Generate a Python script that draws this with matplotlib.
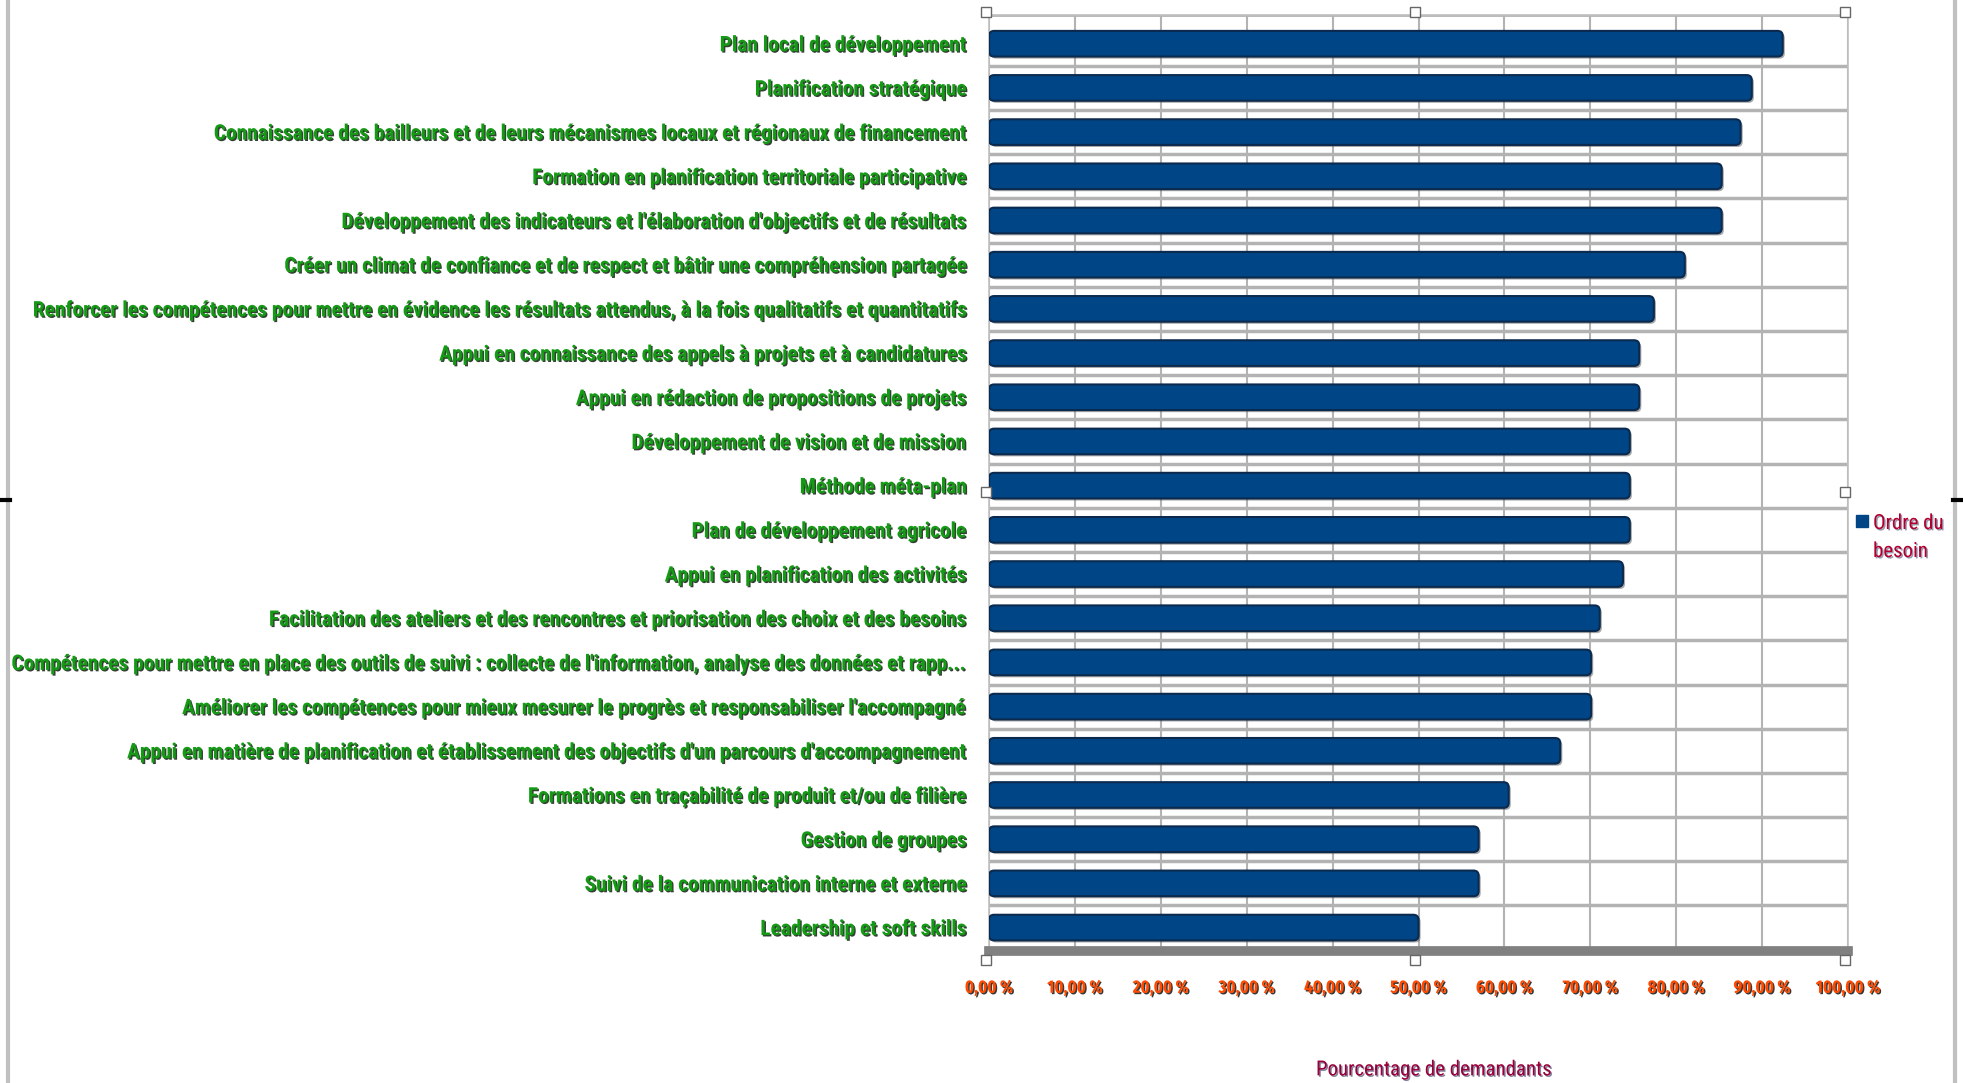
import matplotlib
matplotlib.use("Agg")
import matplotlib.pyplot as plt
import matplotlib.patheffects as pe
from matplotlib.lines import Line2D
from matplotlib.patches import FancyBboxPatch

# donnees
besoins = [
    "Plan local de développement",
    "Planification stratégique",
    "Connaissance des bailleurs et de leurs mécanismes locaux et régionaux de financement",
    "Formation en planification territoriale participative",
    "Développement des indicateurs et l'élaboration d'objectifs et de résultats",
    "Créer un climat de confiance et de respect et bâtir une compréhension partagée",
    "Renforcer les compétences pour mettre en évidence les résultats attendus, à la fois qualitatifs et quantitatifs",
    "Appui en connaissance des appels à projets et à candidatures",
    "Appui en rédaction de propositions de projets",
    "Développement de vision et de mission",
    "Méthode méta-plan",
    "Plan de développement agricole",
    "Appui en planification des activités",
    "Facilitation des ateliers et des rencontres et priorisation des choix et des besoins",
    "Compétences pour mettre en place des outils de suivi : collecte de l'information, analyse des données et rapp...",
    "Améliorer les compétences pour mieux mesurer le progrès et responsabiliser l'accompagné",
    "Appui en matière de planification et établissement des objectifs d'un parcours d'accompagnement",
    "Formations en traçabilité de produit et/ou de filière",
    "Gestion de groupes",
    "Suivi de la communication interne et externe",
    "Leadership et soft skills",
]
pourcentages = [92.4, 88.8, 87.5, 85.3, 85.3, 81.0, 77.4, 75.7, 75.7, 74.6, 74.6,
                74.6, 73.8, 71.1, 70.1, 70.1, 66.5, 60.5, 57.0, 57.0, 50.0]
ticks = list(range(0, 101, 10))
tick_labels = [f"{t},00 %" for t in ticks]

police = ["Roboto Condensed", "DejaVu Sans"]
police_ticks = ["Fira Sans Extra Condensed", "Roboto Condensed", "DejaVu Sans"]
ombre = [pe.SimplePatchShadow(offset=(1, -1), shadow_rgbFace="#1c2a1c", alpha=0.9), pe.Normal()]

fig = plt.figure(figsize=(19.63, 10.83), dpi=100)
ax = fig.add_axes([989 / 1963, 1 - 951 / 1083, (1848 - 989) / 1963, (951 - 15) / 1083])

y = list(range(len(besoins)))
barres = ax.barh(y, pourcentages, height=0.58, color="#004586", zorder=3)
# barres aux bouts arrondis, a partir de la geometrie des barres
for b in barres:
    b.set_visible(False)
    arrondi = FancyBboxPatch((b.get_x(), b.get_y()), b.get_width(), b.get_height(),
                             boxstyle="round,pad=0,rounding_size=0.6", mutation_aspect=0.19,
                             facecolor="#004586", edgecolor="#0b2a4e", linewidth=1.5, zorder=3)
    arrondi.set_path_effects([pe.SimplePatchShadow(offset=(1.5, -1.5), shadow_rgbFace="#555555", alpha=0.5),
                              pe.Normal()])
    ax.add_patch(arrondi)

ax.set_xlim(0, 100)
ax.set_ylim(20.53, -0.65)

# grille
for t in ticks:
    ax.axvline(t, color="#b3b3b3", lw=1.5, zorder=1)
for i in range(len(besoins)):
    ax.axhline(i + 0.5, color="#b3b3b3", lw=2.5, zorder=1)
ax.axhline(-0.65, color="#b3b3b3", lw=2, zorder=1)

for s in ["top", "right", "left"]:
    ax.spines[s].set_color("#c0c0c0")
    ax.spines[s].set_linewidth(1.2)
ax.spines["bottom"].set_color("#808080")
ax.spines["bottom"].set_linewidth(7)

ax.set_yticks(y)
ax.set_yticklabels(besoins, fontsize=15.4, fontweight="bold", color="#159a15", family=police)
for lab in ax.get_yticklabels():
    lab.set_path_effects(ombre)
ax.set_xticks(ticks)
ax.set_xticklabels(tick_labels, fontsize=13, fontweight="bold", color="#ff4a00", family=police_ticks)
for lab in ax.get_xticklabels():
    lab.set_path_effects([pe.SimplePatchShadow(offset=(1, -1), shadow_rgbFace="#222222", alpha=0.9), pe.Normal()])
ax.tick_params(axis="y", length=0, pad=16)
ax.tick_params(axis="x", length=0, pad=20)

ax.set_xlabel("Pourcentage de demandants", fontsize=15, color="#9a0038", family=police)
ax.xaxis.label.set_va("center")
ax.xaxis.set_label_coords(0.518, -0.127)
ax.xaxis.label.set_path_effects([pe.SimplePatchShadow(offset=(1, -1), shadow_rgbFace="#303060", alpha=0.6), pe.Normal()])

# poignees de selection
for px, py in [(0, 1), (0.5, 1), (1, 1), (0, 0.5), (1, 0.5), (0, 0), (0.5, 0), (1, 0)]:
    ax.plot(px - 0.004, py + (0.003 if py == 1 else -0.01), marker="s", ms=7, mfc="white",
            mec="#666666", mew=1, transform=ax.transAxes, clip_on=False, zorder=6)

# legende
fig.add_artist(Line2D([1862 / 1963], [1 - 521 / 1083], marker="s", ms=8, color="#004586", lw=0))
leg = fig.text(1873 / 1963, 1 - 514 / 1083, "Ordre du\nbesoin", fontsize=15, color="#b0002e",
               family=police, va="top", ha="left", linespacing=1.6)
leg.set_path_effects([pe.SimplePatchShadow(offset=(1, -1), shadow_rgbFace="#303060", alpha=0.5), pe.Normal()])

# bordures de la page
fig.add_artist(Line2D([8 / 1963, 8 / 1963], [0, 1], color="#c0c0c0", lw=3))
fig.add_artist(Line2D([1955 / 1963, 1955 / 1963], [0, 1], color="#c0c0c0", lw=3))
fig.add_artist(Line2D([0, 10 / 1963], [1 - 500 / 1083] * 2, color="black", lw=3))
fig.add_artist(Line2D([1953 / 1963, 1], [1 - 500 / 1083] * 2, color="black", lw=3))

fig.savefig("out.png", dpi=100, facecolor="white")
